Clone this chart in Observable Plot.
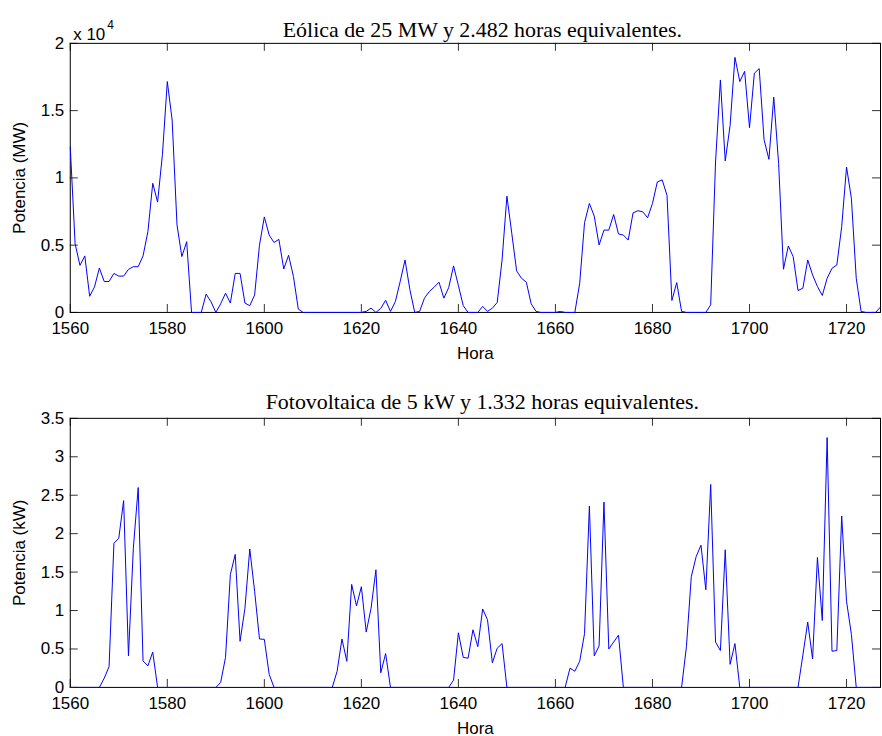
<!DOCTYPE html>
<html><head><meta charset="utf-8">
<script src="https://cdn.jsdelivr.net/npm/d3@7"></script>
<script src="https://cdn.jsdelivr.net/npm/@observablehq/plot@0.6"></script>
<style>
html,body{margin:0;padding:0;background:#fff;overflow:hidden}
#wrap{position:relative;width:882px;height:736px;overflow:hidden;background:#fff}
.panel{position:absolute;left:0}
</style></head><body><div id="wrap"></div>
<script>
// Hours 1560..1727 (one value per hour)
const startHour = 1560;
const xTicks = [1560, 1580, 1600, 1620, 1640, 1660, 1680, 1700, 1720];

// Eólica (MW), hours 1560..1727
const windMW = [
  12300, 5100, 3500, 4200, 1200, 1900, 3300, 2300, 2300, 2900,   // 1560
  2700, 2700, 3200, 3400, 3400, 4200, 6000, 9600, 8200, 11750,   // 1570
  17160, 14300, 6500, 4150, 5260, 0, 0, 0, 1360, 800,            // 1580
  0, 640, 1430, 700, 2900, 2900, 700, 500, 1300, 5000,           // 1590
  7100, 5750, 5200, 5430, 3230, 4250, 2670, 250, 0, 0,           // 1600
  0, 0, 0, 0, 0, 0, 0, 0, 0, 0,                                  // 1610
  0, 80, 320, 0, 300, 900, 75, 800, 2300, 3900,                  // 1620
  1700, 0, 75, 1060, 1550, 1880, 2250, 1060, 1850, 3460,         // 1630
  2000, 500, 0, 0, 0, 450, 75, 320, 740, 3900,                   // 1640
  8640, 5880, 3090, 2540, 2250, 640, 75, 0, 0, 0,                // 1650
  0, 75, 0, 0, 0, 2170, 6670, 8100, 7160, 5010,                  // 1660
  6120, 6120, 7280, 5830, 5750, 5380, 7400, 7560, 7480, 7040,    // 1670
  8100, 9700, 9850, 8700, 890, 2220, 75, 0, 0, 0,                // 1680
  0, 0, 570, 11180, 17280, 11260, 13900, 18960, 17160, 17920,    // 1690
  13730, 17780, 18120, 12840, 11380, 16000, 11060, 3210, 4940, 4150, // 1700
  1630, 1800, 3900, 2790, 1930, 1260, 2540, 3280, 3530, 6370,    // 1710
  10810, 8470, 2540, 75, 0, 0, 0, 400                            // 1720
];

// Fotovoltaica (kW), hours 1560..1727
const solarKW = [
  0, 0, 0, 0, 0, 0, 0, 0.12, 0.27, 1.875,                        // 1560
  1.94, 2.43, 0.41, 1.81, 2.60, 0.345, 0.28, 0.46, 0, 0,         // 1570
  0, 0, 0, 0, 0, 0, 0, 0, 0, 0,                                  // 1580
  0, 0.065, 0.39, 1.47, 1.73, 0.60, 1.03, 1.80, 1.25, 0.63,      // 1590
  0.625, 0.17, 0, 0, 0, 0, 0, 0, 0, 0,                           // 1600
  0, 0, 0, 0, 0, 0.21, 0.63, 0.34, 1.34, 1.06,                   // 1610
  1.31, 0.72, 1.03, 1.53, 0.19, 0.44, 0, 0, 0, 0,                // 1620
  0, 0, 0, 0, 0, 0, 0, 0, 0, 0.095,                              // 1630
  0.71, 0.39, 0.38, 0.75, 0.53, 1.02, 0.88, 0.32, 0.51, 0.57,    // 1640
  0, 0, 0, 0, 0, 0, 0, 0, 0, 0,                                  // 1650
  0, 0, 0, 0.25, 0.21, 0.34, 0.70, 2.36, 0.41, 0.54,             // 1660
  2.41, 0.50, 0.59, 0.68, 0, 0, 0, 0, 0, 0,                      // 1670
  0, 0, 0, 0, 0, 0, 0, 0.53, 1.44, 1.70,                         // 1680
  1.85, 1.27, 2.64, 0.59, 0.48, 1.79, 0.30, 0.57, 0, 0,          // 1690
  0, 0, 0, 0, 0, 0, 0, 0, 0, 0,                                  // 1700
  0, 0.42, 0.85, 0.37, 1.69, 0.87, 3.25, 0.47, 0.48, 2.23,       // 1710
  1.12, 0.69, 0, 0, 0, 0, 0, 0                                   // 1720
];

const windTicks = [0, 5000, 10000, 15000, 20000];
const solarTicks = [0, 0.5, 1, 1.5, 2, 2.5, 3, 3.5];

const titles = ["Eólica de 25 MW y 2.482 horas equivalentes.", "Fotovoltaica de 5 kW y 1.332 horas equivalentes."];
const yLabels = ["Potencia (MW)", "Potencia (kW)"];
const xLabel = "Hora";

const SANS = "'Liberation Sans', Arial, Helvetica, sans-serif";
const SERIF = "'Liberation Serif', 'Times New Roman', serif";
const FS = 17;

function panel({values, yTicks, yFmt, yLabel, title, height, marginTop, marginBottom, titleDy, extra = []}) {
  const W = 885, ML = 70, MR = 2;
  const fw = W - ML - MR, fh = height - marginTop - marginBottom;
  const data = values.map((v, i) => ({hour: startHour + i, value: v}));
  return Plot.plot({
    width: W, height, marginLeft: ML, marginRight: MR, marginTop, marginBottom,
    style: {fontFamily: SANS, fontSize: FS + "px", color: "black", background: "white", overflow: "visible"},
    x: {domain: [startHour, startHour + values.length - 1]},
    y: {domain: [yTicks[0], yTicks[yTicks.length - 1]]},
    marks: [
      Plot.tickX(xTicks, {x: d => d, insetTop: fh - 8, stroke: "#333", strokeWidth: 1}),
      Plot.tickX(xTicks, {x: d => d, insetBottom: fh - 8, stroke: "#333", strokeWidth: 1}),
      Plot.tickY(yTicks, {y: d => d, insetRight: fw - 8, stroke: "#333", strokeWidth: 1}),
      Plot.tickY(yTicks, {y: d => d, insetLeft: fw - 8, stroke: "#333", strokeWidth: 1}),
      Plot.frame({stroke: "black", strokeWidth: 1}),
      Plot.line(data, {x: "hour", y: "value", stroke: "#0000ff", strokeWidth: 1}),
      Plot.axisX({ticks: xTicks, tickSize: 0, tickPadding: 10, tickFormat: d => String(d), fontSize: FS, fill: "black",
        label: xLabel, labelAnchor: "center", labelArrow: "none", labelOffset: 47}),
      Plot.axisY({ticks: yTicks, tickSize: 0, tickPadding: 6, tickFormat: yFmt, fontSize: FS, fill: "black",
        label: yLabel, labelAnchor: "center", labelArrow: "none", labelOffset: 57}),
      Plot.text([title], {text: d => d, frameAnchor: "top", dy: titleDy, dx: 7,
        fontFamily: SERIF, fontSize: 22, fill: "black"}),
      ...extra
    ]
  });
}

const wrap = document.getElementById("wrap");

const p1 = panel({
  values: windMW, yTicks: windTicks, yFmt: d => String(d / 1e4), yLabel: yLabels[0], title: titles[0],
  height: 368, marginTop: 43, marginBottom: 55, titleDy: -22,
  extra: [
    Plot.text(["x 10"], {text: d => d, frameAnchor: "top-left", textAnchor: "start", dx: 3, dy: -15, fontSize: 17, fill: "black"}),
    Plot.text(["4"], {text: d => d, frameAnchor: "top-left", textAnchor: "start", dx: 37, dy: -23, fontSize: 12, fill: "black"})
  ]
});
p1.classList.add("panel"); p1.style.top = "0px";
wrap.appendChild(p1);

const p2 = panel({
  values: solarKW, yTicks: solarTicks, yFmt: d => String(d), yLabel: yLabels[1], title: titles[1],
  height: 368, marginTop: 50, marginBottom: 48, titleDy: -25
});
p2.classList.add("panel"); p2.style.top = "368px";
wrap.appendChild(p2);
</script>
</body></html>
